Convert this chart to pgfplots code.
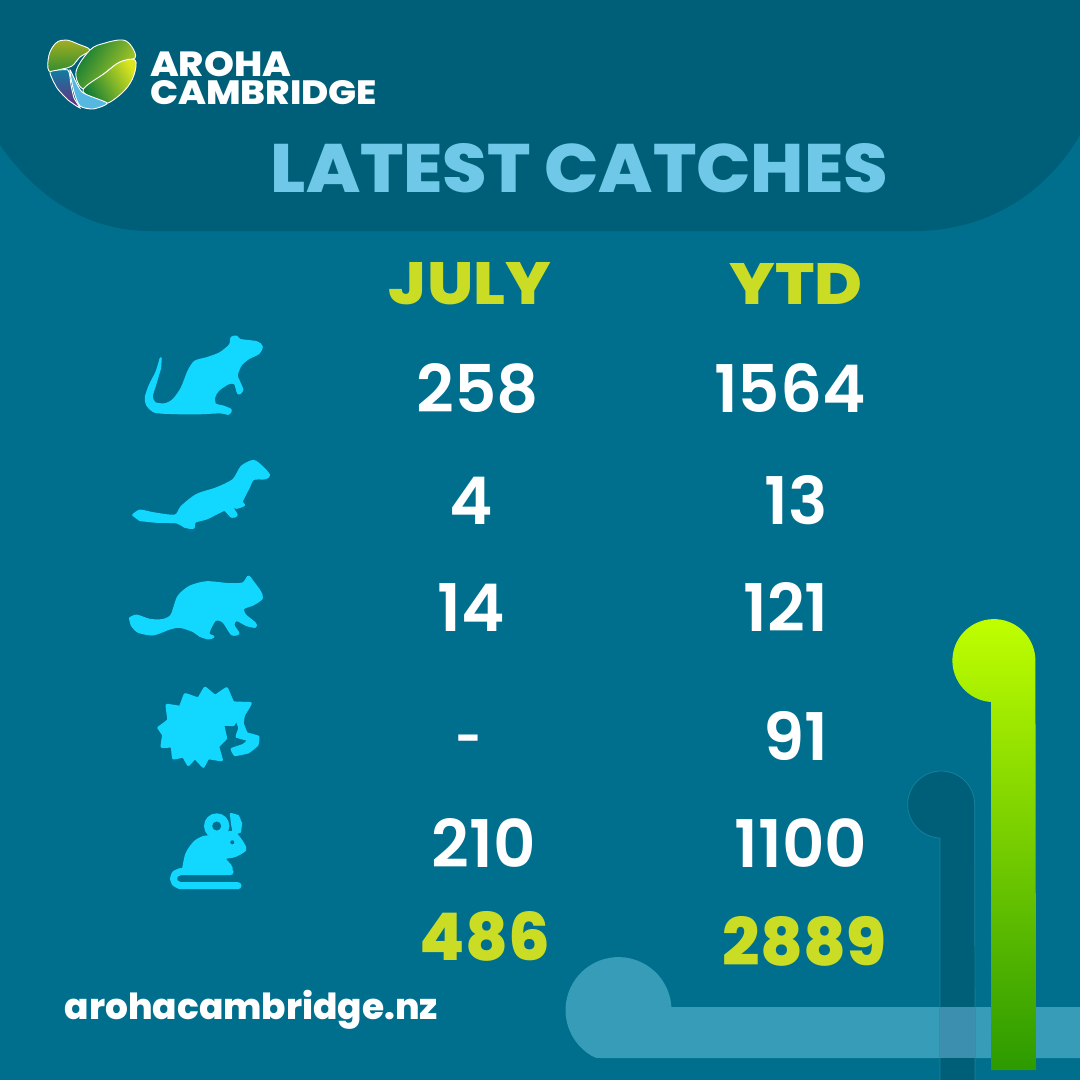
\documentclass[border=0pt]{standalone}
\usepackage{fontspec}
\usepackage{pgfplots}
\usepackage{pgfplotstable}
\pgfplotsset{compat=1.18}
\setmainfont{Poppins}
\newfontfamily\pmed{Poppins SemiBold}
\newfontfamily\pxb{Poppins ExtraBold}
\definecolor{bg}{HTML}{006F8E}
\definecolor{banner}{HTML}{005F78}
\definecolor{lime}{HTML}{CBDC25}
\definecolor{titleblue}{HTML}{70C8E8}
\definecolor{icon}{HTML}{12D8FF}
\definecolor{barlight}{HTML}{369CB8}
\definecolor{overlap}{HTML}{3C8FAE}
\definecolor{lg1}{HTML}{A2AE22}
\definecolor{lg2}{HTML}{2C8C30}
\definecolor{lg3}{HTML}{BBD024}
\definecolor{lg4}{HTML}{0F7A36}
\definecolor{lg5}{HTML}{DDE61E}
\definecolor{lg6}{HTML}{0E7FA0}
\definecolor{lg7}{HTML}{6A2A80}
\definecolor{lg8}{HTML}{55B8E0}
\pgfplotstableread{
x y label
478 412 258
471 524 4
471 631 14
484 867 210
790 412 1564
796 524 13
786 631 121
796 760 91
801 867 1100
}\whitevalues
\pgfplotstableread{
x y label
469 753.5 -
}\nodata
\pgfplotstableread{
x y label
485 960 486
804.5 965 2889
}\totals
\pgfplotsset{
  txt/.style={draw=none,mark=none,nodes near coords,point meta=explicit symbolic,
    nodes near coords style={anchor=base,inner sep=0pt,outer sep=0pt,#1}},
  ic/.style={fill=icon,draw=icon,line width=2.2bp,line join=round,mark=none},
}
\begin{document}
\begin{tikzpicture}
\begin{axis}[hide axis,scale only axis,width=1080bp,height=1080bp,
  xmin=0,xmax=1080,ymin=0,ymax=1080,y dir=reverse,clip=true,at={(0,0)}]
% background
\addplot[fill=bg,draw=none,mark=none] coordinates {(0,0)(1080,0)(1080,1080)(0,1080)} --cycle;
\fill[banner] (0,0) -- (0,145) .. controls (35,195) and (85,231) .. (150,231) -- (915,231) .. controls (985,231) and (1045,195) .. (1080,135) -- (1080,0) -- cycle;
% light bar
\fill[barlight] (1080,1058) -- (600,1058) .. controls (597,1058) and (595,1058) .. (592,1056) arc[start angle=240,end angle=3,radius=53bp] -- (670,1007) -- (1080,1007) -- cycle;
% dark stem
\fill[banner] (940,1080) -- (940,838) arc[start angle=268,end angle=0,radius=33.5bp] -- (975,1080) -- cycle;
\draw[barlight!45!bg,line width=0.7bp] (940,1080) -- (940,838) arc[start angle=268,end angle=0,radius=33.5bp] -- (975,1080);
\fill[overlap] (940,1007) rectangle (975,1058);
% green stem
\shade[top color={rgb,255:red,192;green,255;blue,0},bottom color={rgb,255:red,44;green,154;blue,0}]
  (991,1070) -- (991,702) arc[start angle=266,end angle=0,radius=41.5bp] -- (1036,1070) -- cycle;
% logo
\shade[top color=lg1,bottom color=lg2,draw=white,line width=0.9bp]
  plot[smooth cycle,tension=0.6] coordinates {(49,71)(49,55)(56,43)(66,40)(78,44)(90,50)(80,57)(72,66)(62,69)};
\shade[left color=lg4,right color=lg3,shading angle=60,draw=white,line width=0.9bp]
  plot[smooth cycle,tension=0.6] coordinates {(90,50)(105,43)(123,40)(132,47)(135,58)(120,62)(105,73)(84,89)(76,72)};
\shade[left color=lg4,right color=lg5,shading angle=120,draw=white,line width=0.9bp]
  plot[smooth cycle,tension=0.6] coordinates {(135,60)(134,75)(125,90)(108,103)(98,100)(83,90)(105,73)(120,62)};
\shade[top color=lg6,bottom color=lg7,draw=white,line width=0.9bp]
  plot[smooth cycle,tension=0.3] coordinates {(50,72)(68,70)(71,85)(74,98)(80,108)(68,100)(57,88)};
\fill[lg8,draw=white,line width=0.9bp]
  plot[smooth cycle,tension=0.4] coordinates {(70,70)(82,92)(107,103)(93,109)(80,106)(74,92)};
% rat
\addplot[ic,smooth,tension=0.45] coordinates {(160.7,358.3)(156.7,371.7)(150,385)(146,396.7)(147.3,405)(155,411.7)(173.3,413)(196.7,413.3)(220,412.3)(228.3,413.7)(230.7,410)(223.3,406.7)(215,404.3)(214.3,396.7)(218.3,390)(228.3,383.3)(235,383.3)(238.3,393.3)(242.3,390)(238.3,380)(236.7,375)(240.7,365)(248.3,358.3)(258.3,353.3)(261.7,346.7)(256.7,342.3)(240,340)(236.7,336.7)(231.7,337.7)(230,345)(220,353.3)(206.7,358.3)(195,361.7)(188.3,371.7)(181.7,388.3)(173.3,400)(165,404.3)(155,403.3)(151.7,396.7)(155,385)(160,368.3)} --cycle;
% stoat
\addplot[ic,smooth,tension=0.45] coordinates {(133.3,515)(140,510.7)(153.3,513.3)(175,515.7)(181.7,506.7)(196.7,495)(216.7,488.3)(233.3,480)(241.7,466.7)(253.3,461)(261.7,466.7)(269,475)(265,478.3)(253.3,479)(248.3,488.3)(241.7,501.7)(244,505)(236.7,507.7)(231.7,506.7)(236.7,515)(231.7,516.7)(225,510)(220,511.7)(206.7,518.3)(195,521.7)(193.3,527.7)(185,526.7)(176.7,522.3)(156.7,521.7)(140,520)} --cycle;
% possum
\addplot[ic,smooth,tension=0.45] coordinates {(130,618.3)(136.7,615.7)(150,620)(163.3,620)(171.7,615)(178.3,596.7)(190,586.7)(206.7,582.3)(230,584.3)(243.3,583.3)(248.3,576.7)(252.7,581.7)(260,591.7)(261.7,598.3)(253.3,604.3)(243.3,608.3)(245,615)(255,623.3)(255,626.7)(246.7,625)(236.7,620)(233.3,625)(238.3,633.3)(231.7,634)(223.3,621.7)(215,620)(208.3,633.3)(213.3,636.7)(208.3,638.3)(200,635.7)(193.3,631)(180,626.7)(170,628.3)(153.3,634.3)(138.3,631.7)(131.7,625)} --cycle;
% hedgehog
\addplot[ic,smooth,tension=0.15] coordinates {(158.3,727.7)(168.3,720)(166.7,705)(180,706.7)(185,694.3)(198.3,698.3)(205,687.7)(215,695.7)(226.7,688.3)(233.3,702.3)(250.7,703.3)(244,715)(242.7,723.3)(246.7,733.3)(258.3,736.7)(257.3,745)(248.3,752.3)(235,755)(231.7,749)(243.3,745)(248.3,740)(236.7,736.7)(239.3,728.3)(236.7,720)(233.3,725)(223.3,725)(226,738.3)(218.3,746.7)(221.7,760)(208.3,758.3)(203.3,766.7)(195,758.3)(188.3,765)(183.3,756.7)(173.3,758.3)(171.7,746.7)(161.7,746.7)(163.3,735)} --cycle;
% mouse
\addplot[icon,line width=7bp,line cap=round,line join=round,mark=none] coordinates {(230,871.7)(180,871.7)(175,874)(173.5,878.7)(175,883)(180,885.7)(238,885.7)};
\addplot[ic,smooth,tension=0.5] coordinates {(183.3,868.3)(186.7,853.3)(195,841.7)(205,836.7)(217,836.7)(230,832)(236,834)(243,843.3)(245,850)(235,856)(225,858.3)(230,865)(231.7,868.3)} --cycle;
\addplot[ic] coordinates {(231,814)(238,816)(241,823.3)(240,831.7)(234,834)(232,823.3)} --cycle;
\fill[icon] (216.7,826) circle[radius=12.7bp];
\fill[bg] (216.7,826) circle[radius=4.5bp];
\fill[bg] (232.3,842.3) circle[radius=2bp];
% text
\addplot[txt={text=white,font=\pmed\fontsize{66}{66}\selectfont}] table[x=x,y=y,meta=label] {\whitevalues};
\addplot[txt={text=white,font=\bfseries\fontsize{44}{44}\selectfont}] table[x=x,y=y,meta=label] {\nodata};
\addplot[txt={text=lime,font=\pxb\fontsize{66}{66}\selectfont}] table[x=x,y=y,meta=label] {\totals};
\node[anchor=base,inner sep=0pt,text=lime,font=\pxb] at (470,304) {\resizebox{162bp}{42bp}{JULY}};
\node[anchor=base,inner sep=0pt,text=lime,font=\pxb] at (796,304) {\resizebox{133bp}{41bp}{YTD}};
\node[anchor=base,inner sep=0pt,text=titleblue,font=\pxb] at (579.5,192) {\resizebox{617bp}{49bp}{LATEST CATCHES}};
\node[anchor=base west,inner sep=0pt,text=white,font=\pxb] at (150,76) {\resizebox{141bp}{25bp}{AROHA}};
\node[anchor=base west,inner sep=0pt,text=white,font=\pxb] at (150,104) {\resizebox{227bp}{24bp}{CAMBRIDGE}};
\node[anchor=base,inner sep=0pt,text=white,font=\pxb\fontsize{33}{33}\selectfont] at (251.5,1019) {\resizebox{373bp}{!}{arohacambridge.nz}};
\end{axis}
\end{tikzpicture}
\end{document}
